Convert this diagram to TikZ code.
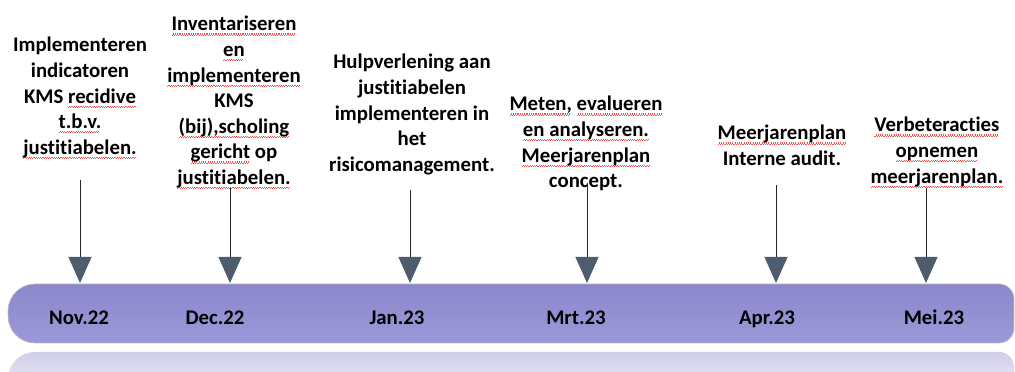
\documentclass[tikz,border=0pt]{standalone}
\usepackage{fontspec}
\setmainfont{Carlito}[Ligatures={NoCommon}]
\usetikzlibrary{arrows.meta}
\definecolor{barpurple}{HTML}{8B87CB}
\definecolor{barlight}{HTML}{9C99DA}
\definecolor{slate}{HTML}{4E5D6E}
\definecolor{mirror}{HTML}{CFCDE8}
\definecolor{wavered}{HTML}{F05050}
\newsavebox\wordbox
\newcommand\sq[1]{\sbox\wordbox{#1}\leavevmode\rlap{\lower3pt\hbox to\wd\wordbox{\color{wavered}\leaders\hbox{\vrule width 0.8pt height 0.4pt depth 0.4pt\raise0.8pt\hbox{\vrule width 0.8pt height 0.4pt depth 0.4pt}}\hfill}}\usebox\wordbox}

\begin{document}
\begin{tikzpicture}
[x=0.025cm,y=-0.025cm,
  textdecorate/.style={align=center,inner sep=0pt,anchor=north,font=\fontsize{14.8}{18.2}\selectfont\bfseries},%
  monthdecorate/.style={inner sep=0pt,anchor=base,font=\fontsize{14.8}{18.2}\selectfont\bfseries},%
  linedecorate/.style={-{Triangle[width=0.575cm,length=0.65cm,color=slate]},line width=0.7pt,draw=black!85},%
  scale=1]
\useasboundingbox (0,0) rectangle (1015,372);
%% reflection under the bar
\begin{scope}
\clip (0,348) rectangle (1015,372);
\path[top color=mirror,bottom color=white] (500,352) [rounded corners=0.675cm] -- (8,352) -- (8,411) -- (500,411) [rounded corners=0.375cm] -- (1014,411) -- (1014,352) -- cycle;
\end{scope}
%% time bar
\path[top color=barpurple,bottom color=barlight,draw=black!25,line width=0.5pt] (500,284) [rounded corners=0.375cm] -- (1014,284) -- (1014,343) -- (500,343) [rounded corners=0.675cm] -- (8,343) -- (8,284) -- cycle;
%% months
\foreach \nodename/\x/\mtext in {m1/79/Nov.22, m2/215/Dec.22, m3/397/Jan.23, m4/576/Mrt.23, m5/767/Apr.23, m6/934/Mei.23} {
  \node (\nodename) at (\x,325) [monthdecorate] {\mtext};
}
%% texts
\foreach \nodename/\x/\y/\txt in {%
  t1/80/37/{Implementeren\\indicatoren\\KMS \sq{recidive}\\\sq{t.b.v.}\\\sq{justitiabelen.}},
  t2/234/16/{\sq{Inventariseren}\\\sq{en}\\\sq{implementeren}\\KMS\\\sq{(bij),scholing}\\\sq{gericht} op\\\sq{justitiabelen.}},
  t3/412/54/{Hulpverlening aan\\justitiabelen\\implementeren in\\het\\risicomanagement.},
  t4/586/96/{\sq{Meten,} \sq{evalueren}\\\sq{en analyseren.}\\\sq{Meerjarenplan}\\concept.},
  t5/782/125/{\sq{Meerjarenplan}\\Interne audit.},
  t6/937/117/{\sq{Verbeteracties}\\\sq{opnemen}\\\sq{meerjarenplan.}}} {
  \node (\nodename) at (\x,\y) [textdecorate] {\txt};
}
%% arrows
\foreach \nodename/\x/\y in {1/80/180, 2/230/188, 3/410/190, 4/587/183, 5/776/185, 6/926/188} {
  \coordinate (s\nodename) at (\x,\y);
  \coordinate (e\nodename) at (\x,283);
}
\path
\foreach \startnode/\endnode in {s1/e1, s2/e2, s3/e3, s4/e4, s5/e5, s6/e6} {
  (\startnode) edge[linedecorate] (\endnode)
};
\end{tikzpicture}
\end{document}
